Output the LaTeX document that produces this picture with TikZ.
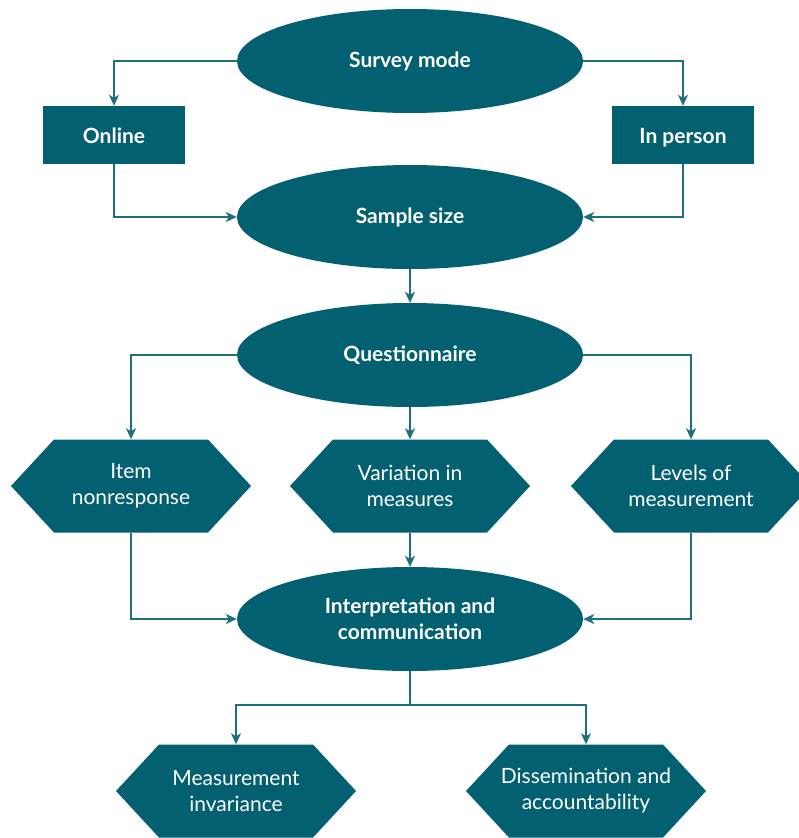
\documentclass[tikz,border=0pt]{standalone}
\usepackage{fontspec}
\setmainfont{Lato}
\usetikzlibrary{shapes.geometric,arrows.meta}
\definecolor{teal}{RGB}{3,96,113}
\definecolor{tealline}{RGB}{30,110,126}
\begin{document}
\begin{tikzpicture}[x=1pt,y=-1pt,
	oval/.style={ellipse,fill=teal,text=white,inner sep=0pt,minimum width=346pt,minimum height=104pt,font=\fontsize{21}{26}\selectfont\bfseries,align=center},
	box/.style={rectangle,fill=teal,text=white,inner sep=0pt,minimum width=142pt,minimum height=58pt,text height=19pt,text depth=2pt,font=\fontsize{21}{26}\selectfont\bfseries},
	hexa/.style={rectangle,fill=white,text=white,inner sep=0pt,minimum width=240pt,minimum height=93pt,font=\fontsize{21}{26}\selectfont,align=center,
		path picture={\fill[teal] (path picture bounding box.west)
			-- ([xshift=43pt]path picture bounding box.north west)
			-- ([xshift=-43pt]path picture bounding box.north east)
			-- (path picture bounding box.east)
			-- ([xshift=-43pt]path picture bounding box.south east)
			-- ([xshift=43pt]path picture bounding box.south west) -- cycle;}},
	link/.style={draw=tealline,line width=1.5pt,-{Stealth[length=11pt,width=10pt,inset=3pt]}}]
	\useasboundingbox (0,0) rectangle (799,838);
	% ovals
	\node[oval] (mode) at (410,61) {Survey mode};
	\node[oval] (size) at (410,217) {Sample size};
	\node[oval] (quest) at (410,355) {Questionnaire};
	\node[oval] (interp) at (410,619) {Interpretation and\\communication};
	% boxes
	\node[box] (online) at (114,135) {Online};
	\node[box] (person) at (683,135) {In person};
	% hexagons
	\node[hexa] (item) at (131,486) {Item\\nonresponse};
	\node[hexa] (vari) at (410,486) {Variation in\\measures};
	\node[hexa] (levels) at (691,486) {Levels of\\measurement};
	\node[hexa] (invar) at (236,791) {Measurement\\invariance};
	\node[hexa] (dissem) at (586,791) {Dissemination and\\accountability};
	% links
	\draw[link] (mode.west) -| (online.north);
	\draw[link] (mode.east) -| (person.north);
	\draw[link] (online.south) |- (size.west);
	\draw[link] (person.south) |- (size.east);
	\draw[link] (size.south) -- (quest.north);
	\draw[link] (quest.west) -| (item.north);
	\draw[link] (quest.south) -- (vari.north);
	\draw[link] (quest.east) -| (levels.north);
	\draw[link] (item.south) |- (interp.west);
	\draw[link] (vari.south) -- (interp.north);
	\draw[link] (levels.south) |- (interp.east);
	\coordinate (split) at ([yshift=-34pt]interp.south);
	\draw[line width=1.5pt,draw=tealline] (interp.south) -- (split);
	\draw[link] (split) -| (invar.north);
	\draw[link] (split) -| (dissem.north);
\end{tikzpicture}
\end{document}
